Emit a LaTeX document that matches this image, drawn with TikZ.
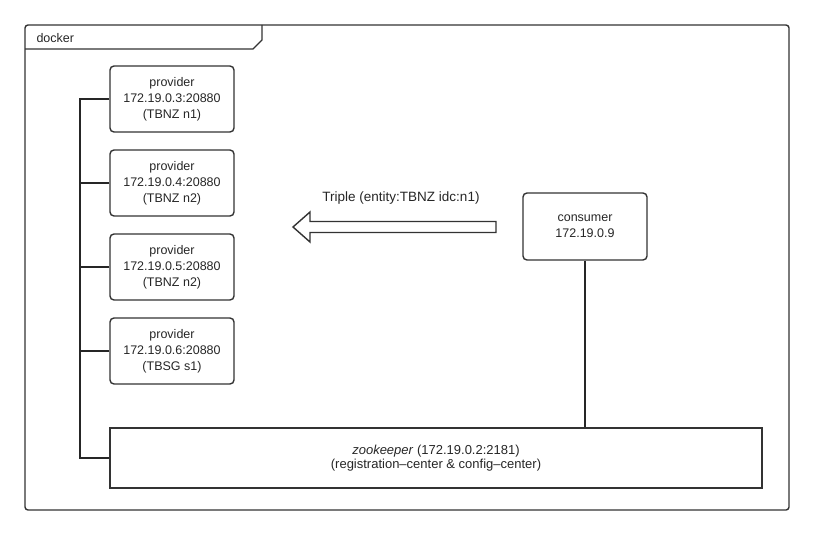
\documentclass[tikz,border=0pt]{standalone}
\usepackage{fontspec}
\setmainfont{Liberation Sans}
\begin{document}
\begin{tikzpicture}[x=1pt,y=-1pt,
  line color/.style={draw=black!80},
  frame/.style={line color,line width=1.4pt,rounded corners=3pt},
  provbox/.style={line color,line width=1.4pt,rounded corners=4pt,minimum width=124pt,minimum height=66pt,align=center,font=\fontsize{12.5}{16}\selectfont,inner sep=0pt},
  bus/.style={draw=black!85,line width=1.8pt},
  every node/.style={text=black!85}]
\useasboundingbox (0,0) rectangle (813,535);
% outer frame
\draw[frame] (25,25) rectangle (789,510);
% tab
\draw[line color,line width=1.4pt] (25,49) -- (253,49) -- (262,40) -- (262,25);
\node[anchor=west,font=\fontsize{12.5}{15}\selectfont] (docker) at (33,38) {docker};
% providers
\node[provbox] (p1) at (172,99) {provider\\172.19.0.3:20880\\(TBNZ n1)};
\node[provbox] (p2) at (172,183) {provider\\172.19.0.4:20880\\(TBNZ n2)};
\node[provbox] (p3) at (172,267) {provider\\172.19.0.5:20880\\(TBNZ n2)};
\node[provbox] (p4) at (172,351) {provider\\172.19.0.6:20880\\(TBSG s1)};
% consumer
\node[provbox,minimum height=67pt] (cons) at (585,226.5) {consumer\\172.19.0.9};
% zookeeper
\node[draw=black!80,line width=1.4pt,minimum width=652pt,minimum height=60pt,align=center,font=\fontsize{13}{13.5}\selectfont,inner sep=0pt] (zk) at (436,458) {\textit{zookeeper} (172.19.0.2:2181)\\(registration--center \& config--center)};
% bus
\coordinate (b1) at (80,99);
\coordinate (b5) at (80,458);
\draw[bus] (p1.west) -- (b1) -- (b5) -- (zk.west |- b5);
\draw[bus] (p2.west) -- (p2.west -| b1);
\draw[bus] (p3.west) -- (p3.west -| b1);
\draw[bus] (p4.west) -- (p4.west -| b1);
% consumer to zookeeper
\draw[bus,line width=1.6pt] (cons.south) -- (cons.south |- zk.north);
% hollow arrow
\coordinate (tail) at (496,227);
\coordinate (tip) at (293,227);
\draw[line color,line width=1.4pt,line join=miter] (496,221.5) -- (310,221.5) -- (310,212) -- (tip) -- (310,242) -- (310,232.5) -- (496,232.5) -- cycle;
\node[font=\fontsize{13.5}{15}\selectfont] (lbl) at (401,198) {Triple (entity:TBNZ idc:n1)};
\end{tikzpicture}
\end{document}
